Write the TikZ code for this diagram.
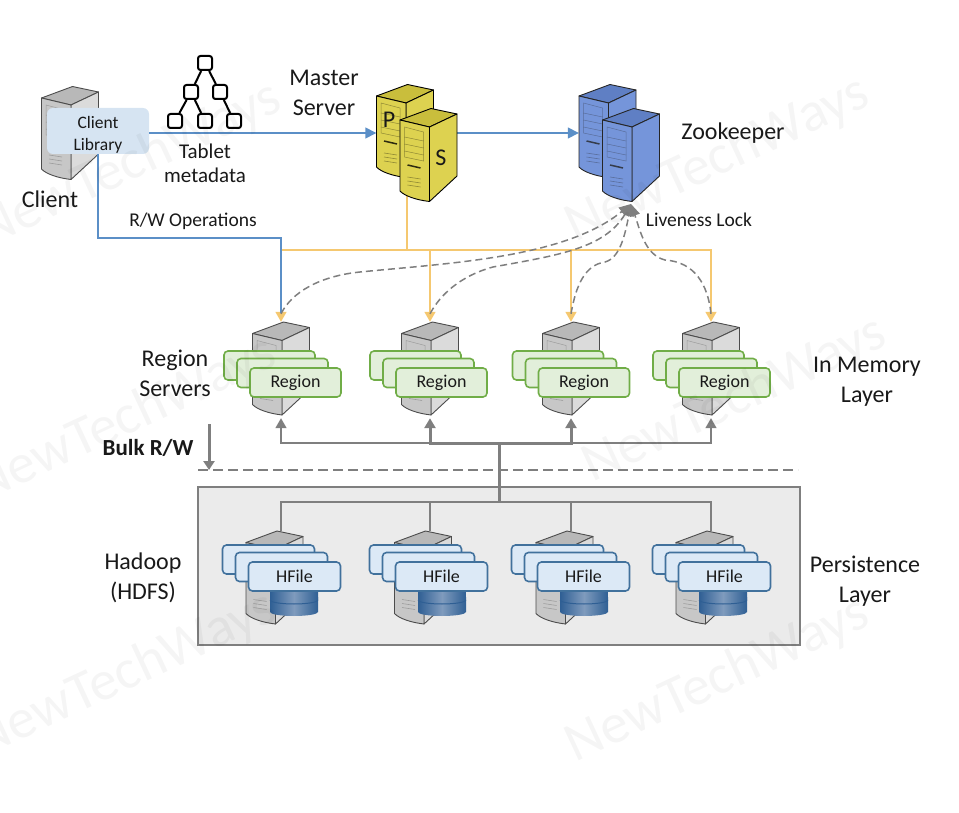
\documentclass[tikz,border=0pt]{standalone}
\usepackage{fontspec}
\setmainfont{Carlito}
\usetikzlibrary{arrows.meta,calc}

\definecolor{linkblue}{HTML}{5B8FC7}
\definecolor{linkyellow}{HTML}{F5C870}
\definecolor{linkgrey}{HTML}{7F7F7F}
\definecolor{libfill}{HTML}{D6E4F2}
\definecolor{regionfill}{HTML}{E2EFDA}
\definecolor{regionline}{HTML}{70AD47}
\definecolor{hfilefill}{HTML}{DCE9F6}
\definecolor{hfileline}{HTML}{41719C}
\definecolor{layerfill}{HTML}{EBEBEB}
\definecolor{dbdark}{HTML}{2F5F94}
\definecolor{dbmid}{HTML}{7F9BBD}
\definecolor{mastertop}{HTML}{C9BE3C}
\definecolor{masterside}{HTML}{DDD250}
\definecolor{zktop}{HTML}{5F7FC4}
\definecolor{zkside}{HTML}{7595DA}

\tikzset{
  labeltext/.style={text=black!90,align=center,font=\fontsize{24}{30}\selectfont},
  smalltext/.style={text=black!90,align=center,font=\fontsize{19.5}{24}\selectfont},
  boxtext/.style={text=black!90,align=center,font=\fontsize{18}{22}\selectfont},
  watermark/.style={text=black,text opacity=0.04,rotate=25,font=\fontsize{56}{56}\selectfont},
  serverslot/.style={minimum width=57pt,minimum height=93pt,inner sep=0pt},
  treebox/.style={draw=black,line width=2pt,fill=white,rounded corners=2.5pt,minimum size=14pt,inner sep=0pt},
  treeline/.style={draw=black,line width=2pt},
  regionbox/.style={draw=regionline,fill=regionfill,line width=1.6pt,rounded corners=4pt,
    minimum width=91pt,minimum height=29pt,inner sep=0pt,boxtext},
  hfilebox/.style={draw=hfileline,fill=hfilefill,line width=1.6pt,rounded corners=4pt,
    minimum width=92pt,minimum height=29pt,inner sep=0pt,boxtext},
  bluelink/.style={draw=linkblue,line width=1.5pt},
  yellowlink/.style={draw=linkyellow,line width=1.5pt},
  greylink/.style={draw=linkgrey,line width=1.5pt},
  boldlink/.style={draw=linkgrey,line width=3pt},
  locklink/.style={draw=linkgrey,line width=1.5pt,dash pattern=on 7pt off 4pt},
  pics/servericon/.style n args={4}{code={
    \filldraw[draw=#1,fill=#2,line width=0.9pt,line join=round] (-28.5,-35) -- (2.5,-46.5) -- (28.5,-41) -- (1,-28) -- cycle;
    \filldraw[draw=#1,fill=#4,line width=0.9pt,line join=round] (28.5,-41) -- (28.5,21) -- (1,46.5) -- (1,-28) -- cycle;
    \filldraw[draw=#1,fill=#3,line width=0.9pt,line join=round] (-28.5,-35) -- (1,-28) -- (1,46.5) .. controls (-12,45) and (-24,41) .. (-28.5,36) -- cycle;
    \draw[draw=#1,opacity=0.35,line width=0.5pt] (-24,-28) -- (-5,-23) -- (-5,6) -- (-24,2) -- cycle;
    \foreach \ventrow in {-18,-11,-4}
      \draw[draw=#1,opacity=0.35,line width=0.5pt] (-24,\ventrow) -- (-5,\ventrow+4);
    \draw[draw=#1,line width=1.5pt,opacity=0.8] (-21,10) -- (-8,13);
    \foreach \ventrow in {22,26,30}
      \draw[draw=#1,opacity=0.35,line width=0.6pt] (-21,\ventrow) -- (-8,\ventrow+2);
  }},
  pics/boxstack/.style 2 args={code={
    \node[#1] (back) at (-26,-17) {};
    \node[#1] (mid) at (-13,-9.5) {};
    \node[#1] (front) at (0,0) {#2};
  }},
  pics/dbstack/.style={code={
    \path[left color=dbdark,right color=dbdark,middle color=dbmid] (-24,6) -- (24,6) -- (24,21) arc[start angle=0,end angle=-180,x radius=24,y radius=-4] -- cycle;
    \path[left color=dbdark,right color=dbdark,middle color=dbmid] (-24,0) -- (24,0) -- (24,9) arc[start angle=0,end angle=-180,x radius=24,y radius=-4] -- cycle;
    \draw[draw=dbdark,line width=1pt] (24,9) arc[start angle=0,end angle=-180,x radius=24,y radius=-4];
  }}
}

\begin{document}
\begin{tikzpicture}[x=1pt,y=-1pt]
  \useasboundingbox (0,0) rectangle (959,813);

  % server places
  \node[serverslot] (clientpc) at (70,133) {};
  \node[serverslot] (mp) at (405,131) {};
  \node[serverslot] (ms) at (428.5,155) {};
  \node[serverslot] (zp) at (607.5,131) {};
  \node[serverslot] (zs) at (631,155) {};
  \node[serverslot] (rs1) at (281,368.5) {};
  \node[serverslot] (rs2) at (430,368.5) {};
  \node[serverslot] (rs3) at (571,368.5) {};
  \node[serverslot] (rs4) at (711,368.5) {};
  \node[serverslot] (hs1) at (274.5,577.5) {};
  \node[serverslot] (hs2) at (423,577.5) {};
  \node[serverslot] (hs3) at (564.5,577.5) {};
  \node[serverslot] (hs4) at (704.5,577.5) {};
  \pic at (clientpc) {servericon={black!70}{black!28}{black!22}{black!14}};
  \node[fill=libfill,rounded corners=6pt,minimum width=102pt,minimum height=46pt,inner sep=0pt,boxtext,
    font=\fontsize{17.5}{22}\selectfont] (clientlib) at (98,131) {\rule{0pt}{19.4pt}Client\\Library};

  \coordinate (mainline) at (0,133);
  \coordinate (rwbend) at (281,238);
  \coordinate (masterdrop) at (407,190);
  \coordinate (masterbus) at (407,250);
  \coordinate (lock) at (631,204);
  \coordinate (bulkbus) at (499,443);
  \coordinate (hdfsbus) at (499,502);
  \coordinate (bulktop) at (209,424);
  \coordinate (bulkend) at (209,470);
  \coordinate (splitleft) at (198,470);
  \coordinate (splitright) at (798,470);

  % layer frame
  \draw[draw=linkgrey,fill=layerfill,line width=1.6pt] (198,487) rectangle (800,645);

  % yellow links from the master
  \draw[yellowlink] (masterdrop) -- (masterbus);
  \draw[yellowlink,-{Triangle[width=11pt,length=10pt]}] (masterbus) -| (rs1.north);
  \draw[yellowlink,-{Triangle[width=11pt,length=10pt]}] (masterbus) -| (rs2.north);
  \draw[yellowlink,-{Triangle[width=11pt,length=10pt]}] (masterbus) -| (rs3.north);
  \draw[yellowlink,-{Triangle[width=11pt,length=10pt]}] (masterbus) -| (rs4.north);

  % blue links
  \draw[bluelink,-{Triangle[width=11pt,length=11pt]}] (clientlib.east |- mainline) -- (mp.west |- mainline);
  \draw[bluelink,-{Triangle[width=11pt,length=11pt]}] (ms.east |- mainline) -- (zp.west |- mainline);
  \draw[bluelink] (clientlib.south) |- (rwbend) -- ([yshift=9pt]rs1.north);

  % liveness links
  \draw[locklink,-{Triangle[width=10pt,length=12pt]}] ([yshift=8pt]rs1.north) .. controls (292,292) and (320,276) .. (360,272) .. controls (450,263) and (565,258) .. (lock);
  \draw[locklink,-{Triangle[width=10pt,length=12pt]}] ([yshift=8pt]rs2.north) .. controls (440,295) and (460,276) .. (493,267) .. controls (560,255) and (605,248) .. (lock);
  \draw[locklink,-{Triangle[width=10pt,length=12pt]}] ([yshift=8pt]rs3.north) .. controls (576,285) and (585,265) .. (605,262) .. controls (620,258) and (625,235) .. (lock);
  \draw[locklink,-{Triangle[width=10pt,length=12pt]}] ([yshift=8pt]rs4.north) .. controls (708,285) and (695,262) .. (665,260) .. controls (645,255) and (640,230) .. (lock);

  % bulk links
  \draw[greylink,-{Triangle[width=11pt,length=10pt]}] (bulkbus) -| ([yshift=-3pt]rs1.south);
  \draw[greylink,-{Triangle[width=11pt,length=10pt]}] (bulkbus) -| ([yshift=-3pt]rs4.south);
  \draw[boldlink,-{Triangle[width=11pt,length=10pt]}] (bulkbus) -| ([yshift=-3pt]rs2.south);
  \draw[boldlink,-{Triangle[width=11pt,length=10pt]}] (bulkbus) -| ([yshift=-3pt]rs3.south);
  \draw[boldlink] (bulkbus) -- (hdfsbus);
  \draw[greylink] (hdfsbus) -| (rs1 |- hs1.north);
  \draw[greylink] (hdfsbus) -| (rs2 |- hs2.north);
  \draw[greylink] (hdfsbus) -| (rs3 |- hs3.north);
  \draw[greylink] (hdfsbus) -| (rs4 |- hs4.north);
  \draw[locklink,dash pattern=on 10pt off 5pt] (splitleft) -- (splitright);
  \draw[boldlink,-{Triangle[width=11pt,length=9pt]}] (bulktop) -- (bulkend);

  % servers
  \pic at (mp) {servericon={black}{mastertop}{masterside}{masterside}};
  \pic at (ms) {servericon={black}{mastertop}{masterside}{masterside}};
  \pic at (zp) {servericon={black!85}{zktop}{zkside}{zkside}};
  \pic at (zs) {servericon={black!85}{zktop}{zkside}{zkside}};
  \pic at (rs1) {servericon={black!70}{black!28}{black!22}{black!14}};
  \pic at (rs2) {servericon={black!70}{black!28}{black!22}{black!14}};
  \pic at (rs3) {servericon={black!70}{black!28}{black!22}{black!14}};
  \pic at (rs4) {servericon={black!70}{black!28}{black!22}{black!14}};
  \pic at (hs1) {servericon={black!70}{black!28}{black!22}{black!14}};
  \pic at (hs2) {servericon={black!70}{black!28}{black!22}{black!14}};
  \pic at (hs3) {servericon={black!70}{black!28}{black!22}{black!14}};
  \pic at (hs4) {servericon={black!70}{black!28}{black!22}{black!14}};

  % stacks on the servers
  \pic (rg1) at (295.5,382.5) {boxstack={regionbox}{Region}};
  \pic (rg2) at (441.5,382.5) {boxstack={regionbox}{Region}};
  \pic (rg3) at (584,382.5) {boxstack={regionbox}{Region}};
  \pic (rg4) at (724.5,382.5) {boxstack={regionbox}{Region}};
  \pic at (294,591) {dbstack};
  \pic at (442,591) {dbstack};
  \pic at (584,591) {dbstack};
  \pic at (723,591) {dbstack};
  \pic (hf1) at (294.5,576.5) {boxstack={hfilebox}{HFile}};
  \pic (hf2) at (441.5,576.5) {boxstack={hfilebox}{HFile}};
  \pic (hf3) at (583.5,576.5) {boxstack={hfilebox}{HFile}};
  \pic (hf4) at (724.5,576.5) {boxstack={hfilebox}{HFile}};

  % tablet tree
  \node[treebox] (t0) at (205,63) {};
  \node[treebox] (t1) at (191,92) {};
  \node[treebox] (t2) at (220,92) {};
  \node[treebox] (t3) at (175,121) {};
  \node[treebox] (t4) at (205,121) {};
  \node[treebox] (t5) at (234,121) {};
  \draw[treeline] (t0) -- (t1);
  \draw[treeline] (t0) -- (t2);
  \draw[treeline] (t1) -- (t3);
  \draw[treeline] (t1) -- (t4);
  \draw[treeline] (t2) -- (t5);

  % labels
  \node[labeltext,font=\fontsize{21}{24}\selectfont] (tabletlabel) at (205,163) {Tablet\\metadata};
  \node[labeltext] (masterlabel) at (324,93) {Master\\Server};
  \node[labeltext] (zklabel) at (733,133) {Zookeeper};
  \node[labeltext] (clientlabel) at (50,199) {Client};
  \node[smalltext] (rwlabel) at (193,221) {R/W Operations};
  \node[smalltext] (locklabel) at (699,220) {Liveness Lock};
  \node[labeltext] (regionlabel) at (175,373) {Region\\Servers};
  \node[labeltext] (memlabel) at (867,382) {In Memory\\Layer};
  \node[labeltext,font=\bfseries\fontsize{23}{24}\selectfont] (bulklabel) at (148,448) {Bulk R/W};
  \node[labeltext] (hadooplabel) at (143,578) {Hadoop\\(HDFS)};
  \node[labeltext] (perslabel) at (865,581) {Persistence\\Layer};
  \node[labeltext] (plabel) at (389,120) {P};
  \node[labeltext] (slabel) at (441,158) {S};

  % watermark
  \node[watermark] (wm1) at (130,165) {NewTechWays};
  \node[watermark] (wm2) at (718,160) {NewTechWays};
  \node[watermark] (wm3) at (125,420) {NewTechWays};
  \node[watermark] (wm4) at (735,400) {NewTechWays};
  \node[watermark] (wm5) at (125,675) {NewTechWays};
  \node[watermark] (wm6) at (718,680) {NewTechWays};
\end{tikzpicture}
\end{document}
